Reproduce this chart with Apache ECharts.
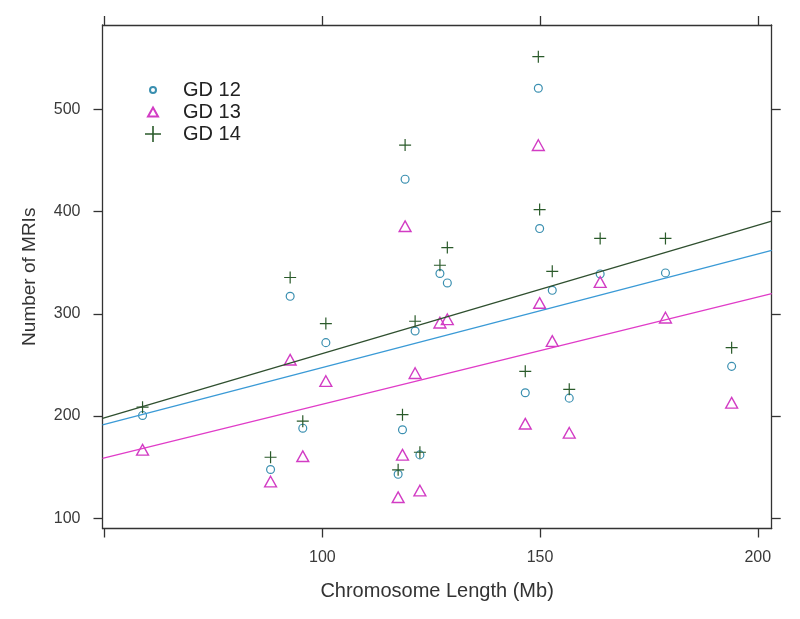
<!DOCTYPE html>
<html>
<head>
<meta charset="utf-8">
<script src="https://cdn.jsdelivr.net/npm/echarts@6/dist/echarts.min.js"></script>
<style>
  html, body { margin: 0; padding: 0; background: #fff; }
  #main { width: 800px; height: 619px; }
</style>
</head>
<body>
<div id="main"></div>
<script>
// chromosome length (Mb), one entry per chromosome
var chromLength = [58.7, 88.1, 92.6, 95.5, 100.8, 117.4, 118.4, 119.0, 121.3, 122.4,
                   127.0, 128.7, 146.6, 149.6, 149.9, 152.8, 156.7, 163.8, 178.8, 194.0];
// number of MRIs per gestational day
var gd12 = [200.6, 147.7, 317.1, 188.1, 271.8, 143.0, 186.6, 431.7, 283.2, 162.0,
            339.4, 330.2, 222.8, 520.6, 383.4, 323.0, 217.5, 339.0, 340.0, 248.6];
var gd13 = [167.0, 135.9, 255.1, 160.7, 234.2, 120.6, 162.1, 385.7, 242.0, 127.1,
            291.4, 294.6, 192.5, 465.0, 310.6, 273.4, 183.6, 331.1, 296.3, 213.0];
var gd14 = [208.7, 159.7, 335.5, 195.0, 290.4, 147.4, 201.3, 465.0, 292.7, 164.6,
            347.5, 364.8, 243.7, 551.5, 402.0, 341.6, 226.1, 373.7, 373.7, 266.9];
var seriesNames = ['GD 12', 'GD 13', 'GD 14'];
var xTicks = [50, 100, 150, 200];
var xLabels = [100, 150, 200];
var yTicks = [100, 200, 300, 400, 500];

var xMin = 49.5, xMax = 203.2;
var yMin = 90, yMax = 582.5;

var font = 'Liberation Sans, Arial, sans-serif';

// symbols in a 16x16 box (the M points keep the box)
var circleSym = 'path://M0,0M16,16M11,8A3,3,0,1,1,5,8A3,3,0,1,1,11,8Z';
var triSym = 'path://M0,0M16,16M8,3.5L13,12.5L3,12.5Z';
var plusSym = 'path://M7.2,0h1.6v7.2h7.2v1.6h-7.2v7.2h-1.6v-7.2h-7.2v-1.6h7.2Z';

function pairs(ys) {
  return chromLength.map(function (x, i) { return [x, ys[i]]; });
}

// least squares line, drawn across the panel
function fitLine(ys) {
  var n = chromLength.length, mx = 0, my = 0, sxy = 0, sxx = 0;
  for (var i = 0; i < n; i++) { mx += chromLength[i]; my += ys[i]; }
  mx /= n; my /= n;
  for (var j = 0; j < n; j++) {
    sxy += (chromLength[j] - mx) * (ys[j] - my);
    sxx += (chromLength[j] - mx) * (chromLength[j] - mx);
  }
  var b = sxy / sxx, a = my - b * mx;
  return [[xMin, a + b * xMin], [xMax, a + b * xMax]];
}

var axisLine = { show: true, lineStyle: { color: '#333', width: 1.3 } };
var tickStyle = { show: true, length: 9, lineStyle: { color: '#333', width: 1.3 } };
var labelStyle = { fontFamily: font, fontSize: 16, color: '#3a3a3a' };

var chart = echarts.init(document.getElementById('main'));
chart.setOption({
  animation: false,
  backgroundColor: '#fff',
  grid: { left: 102.5, right: 28.3, top: 25, bottom: 90.5, show: false },
  legend: {
    data: seriesNames,
    orient: 'vertical',
    left: 139,
    top: 75,
    itemWidth: 16,
    itemHeight: 16,
    itemGap: 2,
    textStyle: { fontFamily: font, fontSize: 20, color: '#222', padding: [0, 0, 0, 17] }
  },
  xAxis: [{
    type: 'value', position: 'bottom', min: xMin, max: xMax,
    name: 'Chromosome Length (Mb)', nameLocation: 'middle', nameGap: 53,
    nameTextStyle: { fontFamily: font, fontSize: 20, color: '#333' },
    axisLine: axisLine,
    axisTick: Object.assign({ customValues: xTicks }, tickStyle),
    axisLabel: Object.assign({ customValues: xLabels, margin: 21 }, labelStyle),
    splitLine: { show: false }
  }, {
    type: 'value', position: 'top', min: xMin, max: xMax,
    axisLine: axisLine,
    axisTick: Object.assign({ customValues: xTicks }, tickStyle),
    axisLabel: { show: false },
    splitLine: { show: false }
  }],
  yAxis: [{
    type: 'value', position: 'left', min: yMin, max: yMax,
    name: 'Number of MRIs', nameLocation: 'middle', nameGap: 63,
    nameTextStyle: { fontFamily: font, fontSize: 19, color: '#333' },
    axisLine: axisLine,
    axisTick: Object.assign({ customValues: yTicks }, tickStyle),
    axisLabel: Object.assign({ customValues: yTicks, margin: 22 }, labelStyle),
    splitLine: { show: false }
  }, {
    type: 'value', position: 'right', min: yMin, max: yMax,
    axisLine: axisLine,
    axisTick: Object.assign({ customValues: yTicks }, tickStyle),
    axisLabel: { show: false },
    splitLine: { show: false }
  }],
  series: [
    {
      name: 'GD 12', type: 'scatter', data: pairs(gd12),
      symbol: circleSym, symbolSize: 21,
      itemStyle: { color: 'transparent', borderColor: '#3a8fb0', borderWidth: 1.2, opacity: 1 }
    },
    {
      name: 'GD 13', type: 'scatter', data: pairs(gd13),
      symbol: triSym, symbolSize: 19,
      itemStyle: { color: 'transparent', borderColor: '#d23cc4', borderWidth: 1.4, opacity: 1 }
    },
    {
      name: 'GD 14', type: 'scatter', data: pairs(gd14),
      symbol: plusSym, symbolSize: 12,
      itemStyle: { color: '#2a5a2a', borderWidth: 0, opacity: 1 }
    },
    //regression lines
    {
      name: 'fit 12', type: 'line', data: fitLine(gd12), symbol: 'none', silent: true, z: 3,
      lineStyle: { color: '#3a9ad6', width: 1.3 }
    },
    {
      name: 'fit 13', type: 'line', data: fitLine(gd13), symbol: 'none', silent: true, z: 3,
      lineStyle: { color: '#e03cc8', width: 1.3 }
    },
    {
      name: 'fit 14', type: 'line', data: fitLine(gd14), symbol: 'none', silent: true, z: 3,
      lineStyle: { color: '#2f4f2f', width: 1.3 }
    }
  ]
});
</script>
</body>
</html>
